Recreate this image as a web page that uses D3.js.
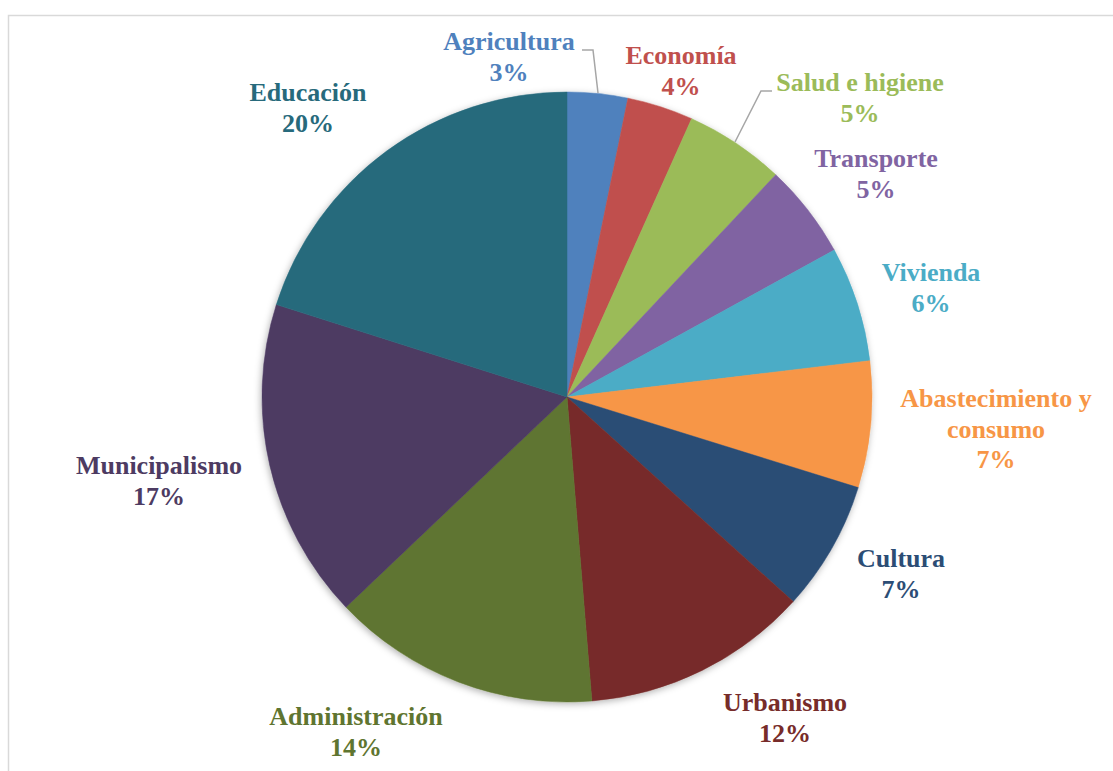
<!DOCTYPE html>
<html><head><meta charset="utf-8">
<script src="https://cdn.jsdelivr.net/npm/d3@7"></script>
<style>html,body{margin:0;padding:0;background:#fff;}svg{display:block;}</style>
</head><body>
<script>
// ---- data ----
const categories = ["Agricultura","Economía","Salud e higiene","Transporte","Vivienda","Abastecimiento y consumo","Cultura","Urbanismo","Administración","Municipalismo","Educación"];
const values = [3.2, 3.5, 5.3, 5.0, 6.1, 6.7, 6.9, 12.0, 14.2, 17.0, 20.1];
const colors = ["#4F81BD","#C0504D","#9BBB59","#8064A2","#4BACC6","#F79646","#2C4D75","#772C2A","#5F7530","#4D3B62","#276A7C"];
const labelLines = [["Agricultura"],["Economía"],["Salud e higiene"],["Transporte"],["Vivienda"],["Abastecimiento y","consumo"],["Cultura"],["Urbanismo"],["Administración"],["Municipalismo"],["Educación"]];

// ---- layout (not data) ----
const W = 1113, H = 771, cx = 567, cy = 397, R = 305;
const labelAnchor = [[509,50],[681,64],[860,91],[876,167],[931,281],[996,407],[901,567],[785,711],[356,725],[159,474],[308,101]];
const leaders = {0: [[582,50],[593,50],[598,93]], 2: [[772,91],[761,91],[735,142]]};

const svg = d3.select("body").append("svg").attr("width", W).attr("height", H);
const defs = svg.append("defs");
const f = defs.append("filter").attr("id","sh").attr("x","-20%").attr("y","-20%").attr("width","140%").attr("height","140%");
f.append("feDropShadow").attr("dx",-1).attr("dy",2).attr("stdDeviation",3.5).attr("flood-color","#000").attr("flood-opacity",0.3);

// frame
svg.append("path").attr("d", `M8.5,${H} L8.5,15.5 L${W},15.5`).attr("fill","none").attr("stroke","#d9d9d9").attr("stroke-width",1.5);

const pie = d3.pie().sort(null).value(d => d)(values);
const arc = d3.arc().innerRadius(0).outerRadius(R);
const g = svg.append("g").attr("transform", `translate(${cx},${cy})`);
const total = d3.sum(values);
g.append("g").attr("filter","url(#sh)").selectAll("path").data(pie).join("path")
  .attr("d", arc).attr("fill", (d,i) => colors[i]).attr("stroke", (d,i) => colors[i]).attr("stroke-width", 0.5);

// leader lines
Object.entries(leaders).forEach(([i, pts]) => {
  svg.append("polyline").attr("points", pts.map(p => p.join(",")).join(" "))
    .attr("fill","none").attr("stroke","#a6a6a6").attr("stroke-width",1.5);
});

// labels
const lab = svg.append("g").attr("font-family","'Liberation Serif','Times New Roman',serif").attr("font-weight","bold").attr("font-size",26).attr("text-anchor","middle");
pie.forEach((d,i) => {
  const lines = labelLines[i].concat([Math.round(values[i] / total * 100) + "%"]);
  const t = lab.append("text").attr("fill", colors[i]).attr("x", labelAnchor[i][0]).attr("y", labelAnchor[i][1]);
  lines.forEach((s,k) => t.append("tspan").attr("x", labelAnchor[i][0]).attr("dy", k === 0 ? 0 : 30.7).text(s));
});
</script>
</body></html>
